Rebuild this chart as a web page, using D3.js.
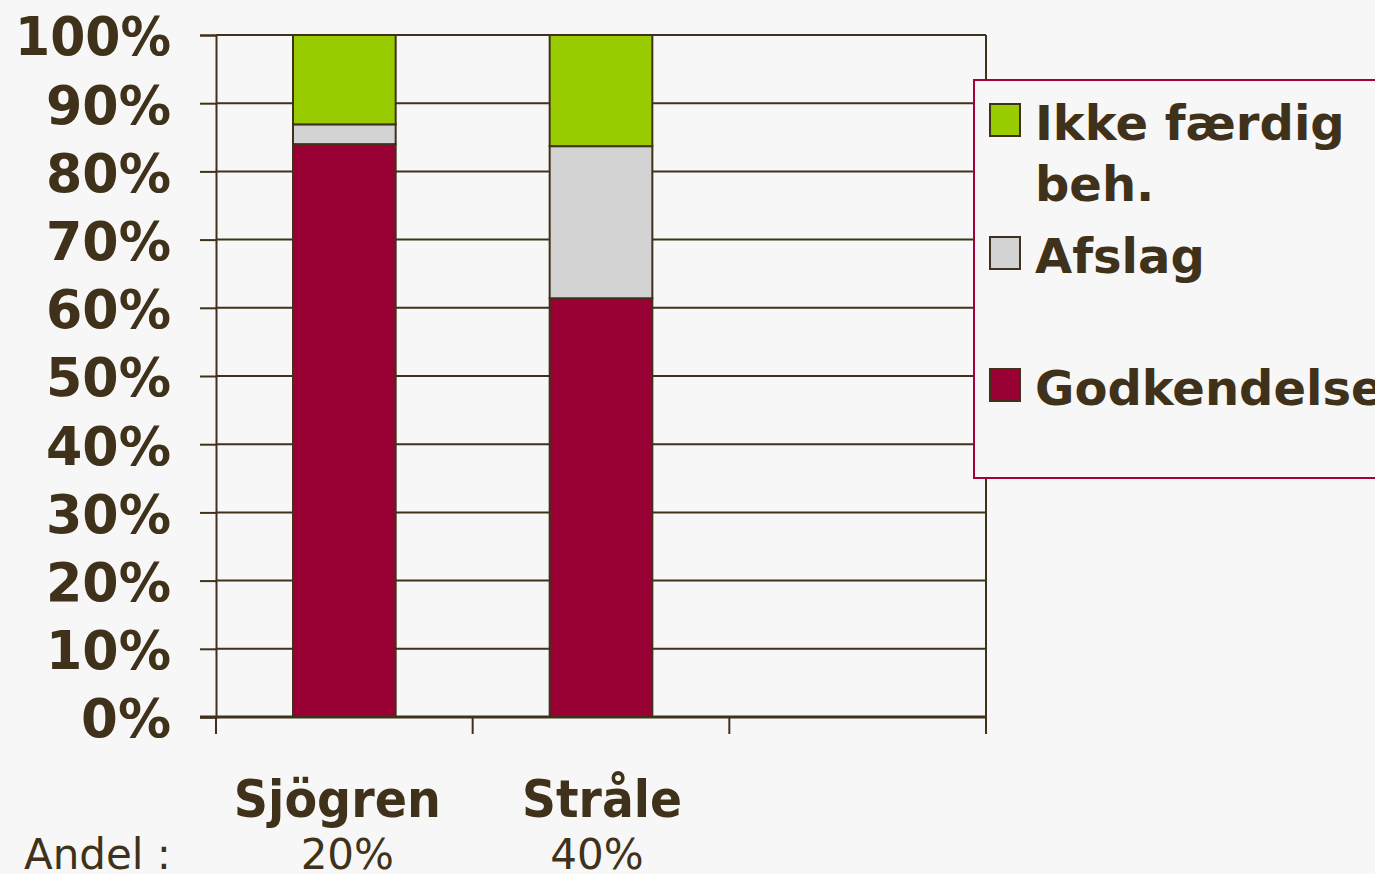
<!DOCTYPE html>
<html>
<head>
<meta charset="utf-8">
<script src="https://cdn.jsdelivr.net/npm/d3@7"></script>
<style>
  body { margin: 0; background: #f7f7f7; overflow: hidden; }
  svg { display: block; }
</style>
</head>
<body>
<div id="chart"></div>
<script>
// data
var categories = ["Sjögren", "Stråle", ""];
var godkendelse = [84.0, 61.4];
var afslag = [2.9, 22.3];
var ikkeFaerdig = [13.1, 16.3];
var andel = ["20%", "40%"];
var yTicks = [0, 10, 20, 30, 40, 50, 60, 70, 80, 90, 100];
var seriesNames = ["Godkendelse", "Afslag", "Ikke færdig beh."];
var seriesColors = ["#990033", "#d3d3d3", "#99cc00"];

const ink = "#40321a";
const width = 1375, height = 874;
const plot = {left: 216, right: 986, top: 35, bottom: 717};

var rows = categories.slice(0, 2).map(function (c, i) {
  return {cat: c, "Godkendelse": godkendelse[i], "Afslag": afslag[i], "Ikke færdig beh.": ikkeFaerdig[i]};
});

var svg = d3.select("#chart").append("svg")
  .attr("width", width)
  .attr("height", height);

svg.append("rect").attr("width", width).attr("height", height).attr("fill", "#f7f7f7");

var x = d3.scaleBand().domain(categories).range([plot.left, plot.right]).padding(0);
var y = d3.scaleLinear().domain([0, 100]).range([plot.bottom, plot.top]);
var barW = x.bandwidth() * 0.4;

// gridlines
svg.append("g").selectAll("line")
  .data(yTicks)
  .join("line")
  .attr("x1", plot.left).attr("x2", plot.right)
  .attr("y1", d => y(d)).attr("y2", d => y(d))
  .attr("stroke", ink).attr("stroke-width", 2);

// y axis
var yAxis = svg.append("g")
  .attr("transform", `translate(${plot.left},0)`)
  .call(d3.axisLeft(y).tickValues(yTicks).tickFormat(d => d + "%").tickSize(16).tickPadding(29));
yAxis.select(".domain").attr("stroke", ink).attr("stroke-width", 2);
yAxis.selectAll(".tick line").attr("stroke", ink).attr("stroke-width", 2);
yAxis.selectAll(".tick text")
  .attr("fill", ink)
  .attr("dy", "0.37em")
  .attr("textLength", d => d == 100 ? 156 : (d == 0 ? 90 : 125))
  .attr("lengthAdjust", "spacingAndGlyphs")
  .style("font", "bold 54px 'DejaVu Sans'");

// right border
svg.append("line")
  .attr("x1", plot.right).attr("x2", plot.right)
  .attr("y1", plot.top).attr("y2", plot.bottom + 17)
  .attr("stroke", ink).attr("stroke-width", 2);

// bars
var stack = d3.stack().keys(seriesNames);
var stacked = stack(rows);
svg.append("g").selectAll("g")
  .data(stacked)
  .join("g")
  .attr("fill", (d, i) => seriesColors[i])
  .selectAll("rect")
  .data(d => d)
  .join("rect")
  .attr("x", d => x(d.data.cat) + (x.bandwidth() - barW) / 2)
  .attr("width", barW)
  .attr("y", d => y(d[1]))
  .attr("height", d => y(d[0]) - y(d[1]))
  .attr("stroke", ink)
  .attr("stroke-width", 2);

// x axis line and ticks at category boundaries
var bounds = categories.map(c => x(c)).concat([plot.right]);
svg.append("line")
  .attr("x1", plot.left - 16).attr("x2", plot.right)
  .attr("y1", plot.bottom).attr("y2", plot.bottom)
  .attr("stroke", ink).attr("stroke-width", 3);
svg.append("g").selectAll("line")
  .data(bounds)
  .join("line")
  .attr("x1", d => d).attr("x2", d => d)
  .attr("y1", plot.bottom).attr("y2", plot.bottom + 17)
  .attr("stroke", ink).attr("stroke-width", 2);

// category labels
var catLen = {"Sjögren": 207, "Stråle": 160};
svg.append("g").selectAll("text")
  .data(categories.slice(0, 2))
  .join("text")
  .attr("x", (d, i) => x(d) + x.bandwidth() / 2 + (i == 0 ? -7 : 1))
  .attr("y", 817)
  .attr("text-anchor", "middle")
  .attr("fill", ink)
  .attr("textLength", d => catLen[d])
  .attr("lengthAdjust", "spacingAndGlyphs")
  .style("font", "bold 51px 'DejaVu Sans'")
  .text(d => d);

// andel row
svg.append("text")
  .attr("x", 24).attr("y", 869)
  .attr("fill", ink)
  .style("font", "42px 'DejaVu Sans'")
  .text("Andel :");
svg.append("g").selectAll("text")
  .data(andel)
  .join("text")
  .attr("x", (d, i) => x(categories[i]) + x.bandwidth() / 2 + (i == 0 ? 3 : -4))
  .attr("y", 869)
  .attr("text-anchor", "middle")
  .attr("fill", ink)
  .style("font", "42px 'DejaVu Sans'")
  .text(d => d);

// legend
var legend = svg.append("g");
legend.append("rect")
  .attr("x", 974).attr("y", 80)
  .attr("width", 420).attr("height", 398)
  .attr("fill", "#f7f7f7")
  .attr("stroke", "#a3003d").attr("stroke-width", 2);

var legendItems = [
  {name: seriesNames[2], lines: ["Ikke færdig", "beh."], color: seriesColors[2], y: 104},
  {name: seriesNames[1], lines: ["Afslag"], color: seriesColors[1], y: 237},
  {name: seriesNames[0], lines: ["Godkendelse"], color: seriesColors[0], y: 369}
];
var li = legend.selectAll("g.item")
  .data(legendItems)
  .join("g")
  .attr("class", "item");
li.append("rect")
  .attr("x", 990).attr("y", d => d.y)
  .attr("width", 30).attr("height", 32)
  .attr("fill", d => d.color)
  .attr("stroke", ink).attr("stroke-width", 2);
li.append("text")
  .attr("x", 1035).attr("y", d => d.y + 36)
  .attr("fill", ink)
  .style("font", "bold 48px 'DejaVu Sans'")
  .selectAll("tspan")
  .data(d => d.lines)
  .join("tspan")
  .attr("x", 1035)
  .attr("dy", (d, i) => i == 0 ? 0 : 61)
  .text(d => d);
</script>
</body>
</html>
